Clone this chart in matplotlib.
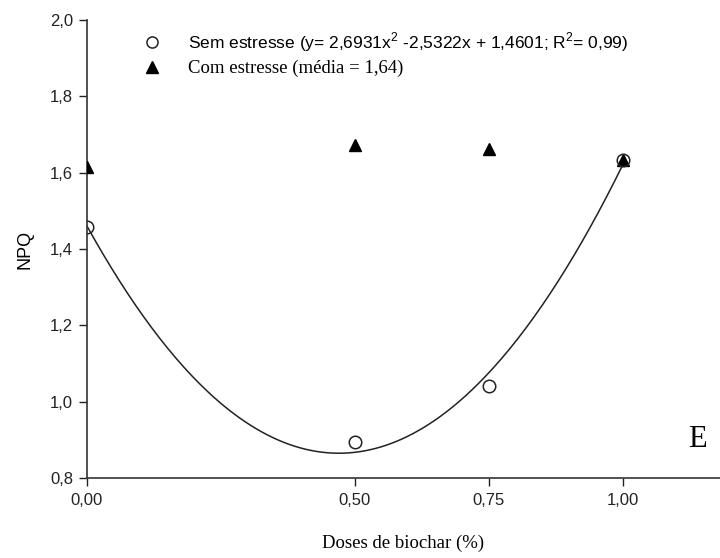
import numpy as np
import matplotlib
matplotlib.use("Agg")
import matplotlib.pyplot as plt
from matplotlib.lines import Line2D

# Data
doses = [0.0, 0.50, 0.75, 1.00]
semEstresse = [1.457, 0.894, 1.042, 1.633]
comEstresse = [1.616, 1.672, 1.661, 1.633]
coefSem = [2.6931, -2.5322, 1.4601]   # quadratic fit from the legend
xTicks = [0.0, 0.50, 0.75, 1.00]
xTickLabels = ["0,00", "0,50", "0,75", "1,00"]
yTicks = [0.8, 1.0, 1.2, 1.4, 1.6, 1.8, 2.0]
yTickLabels = ["0,8", "1,0", "1,2", "1,4", "1,6", "1,8", "2,0"]

plt.rcParams["font.family"] = ["Liberation Sans", "DejaVu Sans"]
plt.rcParams["mathtext.fontset"] = "custom"
plt.rcParams["mathtext.rm"] = "Liberation Sans"

fig = plt.figure(figsize=(7.2, 5.58), dpi=100)
ax = fig.add_axes([0.1208, 0.1434, 0.879, 0.8208])

# Fitted curve
xFit = np.linspace(0, 1, 200)
ax.plot(xFit, np.polyval(coefSem, xFit), color="#222222", lw=1.1, zorder=2)

# Points
ax.plot(doses, comEstresse, linestyle="none", marker="^", markersize=9,
        color="black", zorder=3)
ax.plot(doses, semEstresse, linestyle="none", marker="o", markersize=9,
        markerfacecolor="none", markeredgecolor="#222222", markeredgewidth=1.1, zorder=4)

ax.set_xlim(0, 1.181)
ax.set_ylim(0.8, 2.0)
ax.set_xticks(xTicks)
ax.set_xticklabels(xTickLabels)
ax.set_yticks(yTicks)
ax.set_yticklabels(yTickLabels)
ax.tick_params(direction="out", length=6, width=1, labelsize=12, pad=4, colors="#222222")
ax.tick_params(axis="x", pad=5)
ax.spines["top"].set_visible(False)
ax.spines["right"].set_visible(False)
for s in ["left", "bottom"]:
    ax.spines[s].set_linewidth(1.2)
    ax.spines[s].set_color("#333333")

ax.set_ylabel("NPQ", fontsize=13, labelpad=12)
ax.set_xlabel("Doses de biochar (%)", fontsize=13.5, family="Liberation Serif", labelpad=19)

# Legend
handles = [
    Line2D([], [], linestyle="none", marker="o", markersize=8, markerfacecolor="none",
           markeredgecolor="#222222", markeredgewidth=1.1),
    Line2D([], [], linestyle="none", marker="^", markersize=8, color="black"),
]
labels = [r"Sem estresse (y= 2,6931x$^{\mathrm{2}}$ -2,5322x + 1,4601; R$^{\mathrm{2}}$= 0,99)",
          "Com estresse (média = 1,64)"]
leg = ax.legend(handles, labels, loc="upper left", bbox_to_anchor=(0.05, 1.012),
                frameon=False, fontsize=12.5, handletextpad=1.1, labelspacing=0.35)
leg.get_texts()[1].set_fontfamily("Liberation Serif")
leg.get_texts()[1].set_fontsize(13.5)

ax.text(0.964, 0.083, "E", transform=ax.transAxes, fontsize=22,
        family="Liberation Serif", ha="center", va="center")

fig.savefig("out.png", dpi=100)
